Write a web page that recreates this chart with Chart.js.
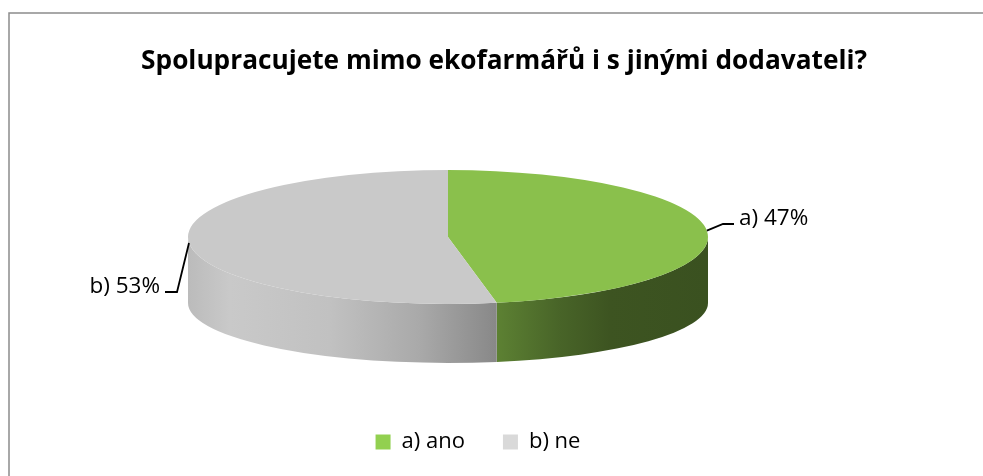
<!DOCTYPE html>
<html>
<head>
<meta charset="utf-8">
<script src="https://cdn.jsdelivr.net/npm/chart.js@4"></script>
<style>
  html, body { margin: 0; padding: 0; background: #fff; }
  #wrap { width: 983px; height: 476px; }
</style>
</head>
<body>
<div id="wrap"><canvas id="chart" width="983" height="476"></canvas></div>
<script>
const chartTitle = 'Spolupracujete mimo ekofarmářů i s jinými dodavateli?';
const categories = ['a) ano', 'b) ne'];
const shortLabels = ['a)', 'b)'];
const values = [47, 53];

const topColors = ['#8ac04c', '#c9c9c9'];
const legendColors = ['#92d050', '#d9d9d9'];

// 3D look of the pie (screen geometry of the top and bottom ellipses)
const pie = { cx: 448, cyTop: 237, ryTop: 67, cyBot: 303, ryBot: 60, rx: 260 };
// lighting of the side wall along x
const shade = [[188, 0.93], [230, 1.0], [330, 0.96], [420, 0.84], [490, 0.69], [560, 0.52], [610, 0.44], [708, 0.42]];

function hexRgb(h) {
    const n = parseInt(h.slice(1), 16);
    return [(n >> 16) & 255, (n >> 8) & 255, n & 255];
}

function sideGradient(ctx, color) {
    const rgb = hexRgb(color);
    const x0 = shade[0][0], x1 = shade[shade.length - 1][0];
    const g = ctx.createLinearGradient(x0, 0, x1, 0);
    shade.forEach(([x, k]) => {
        const c = rgb.map(v => Math.round(v * k));
        g.addColorStop((x - x0) / (x1 - x0), `rgb(${c[0]},${c[1]},${c[2]})`);
    });
    return g;
}

const pie3d = {
    id: 'pie3d',
    beforeDatasetsDraw(chart) {
        const ctx = chart.ctx;
        const arcs = chart.getDatasetMeta(0).data;
        // front side wall, only the part between 0 and PI is visible
        arcs.forEach((arc, i) => {
            for (let k = -1; k <= 1; k++) {
                const lo = Math.max(arc.startAngle, k * 2 * Math.PI);
                const hi = Math.min(arc.endAngle, k * 2 * Math.PI + Math.PI);
                if (hi <= lo) continue;
                ctx.beginPath();
                ctx.ellipse(pie.cx, pie.cyTop, pie.rx, pie.ryTop, 0, lo, hi, false);
                ctx.ellipse(pie.cx, pie.cyBot, pie.rx, pie.ryBot, 0, hi, lo, true);
                ctx.closePath();
                ctx.fillStyle = sideGradient(ctx, topColors[i]);
                ctx.fill();
            }
        });
        // squash the library's circle into the top ellipse
        const a = arcs[0];
        ctx.save();
        ctx.translate(pie.cx, pie.cyTop);
        ctx.scale(pie.rx / a.outerRadius, pie.ryTop / a.outerRadius);
        ctx.translate(-a.x, -a.y);
    },
    afterDatasetsDraw(chart) {
        chart.ctx.restore();
    },
    afterDraw(chart) {
        const ctx = chart.ctx;
        const arcs = chart.getDatasetMeta(0).data;
        ctx.save();

        // frame
        ctx.strokeStyle = '#8c8c8c';
        ctx.lineWidth = 1.5;
        ctx.strokeRect(9, 13, 1000, 500);

        // title
        ctx.fillStyle = '#000';
        ctx.font = 'bold 24px "Open Sans"';
        const tw = ctx.measureText(chartTitle).width;
        const size = 24 * 726 / tw;
        ctx.font = `bold ${size}px "Open Sans"`;
        ctx.textAlign = 'center';
        ctx.textBaseline = 'alphabetic';
        ctx.fillText(chartTitle, 504, 69);

        // data labels with leader lines
        ctx.font = '22.5px "Open Sans"';
        ctx.strokeStyle = '#000';
        ctx.lineWidth = 1.8;
        const aMid = (arcs[0].startAngle + arcs[0].endAngle) / 2;
        const ax = pie.cx + pie.rx * Math.cos(aMid);
        const ay = pie.cyTop + pie.ryTop * Math.sin(aMid);
        ctx.beginPath();
        ctx.moveTo(ax, ay);
        ctx.lineTo(723, 224);
        ctx.lineTo(734, 224);
        ctx.stroke();
        ctx.textAlign = 'left';
        ctx.fillText(`${shortLabels[0]} ${values[0]}%`, 739, 225);

        ctx.beginPath();
        ctx.moveTo(189, 243);
        ctx.lineTo(177, 292);
        ctx.lineTo(165, 292);
        ctx.stroke();
        ctx.textAlign = 'right';
        ctx.fillText(`${shortLabels[1]} ${values[1]}%`, 160, 293);

        ctx.restore();
    }
};

new Chart(document.getElementById('chart'), {
    type: 'pie',
    data: {
        labels: categories,
        datasets: [{
            data: values,
            backgroundColor: topColors,
            borderWidth: 0,
            clip: false
        }]
    },
    options: {
        responsive: false,
        animation: false,
        layout: { padding: { left: 0, right: 27, top: 0, bottom: 13 } },
        plugins: {
            title: { display: false },
            tooltip: { enabled: false },
            legend: {
                display: true,
                position: 'bottom',
                labels: {
                    boxWidth: 15,
                    boxHeight: 15,
                    padding: 38,
                    color: '#000',
                    font: { family: '"Open Sans"', size: 22 },
                    generateLabels: () => categories.map((c, i) => ({
                        text: c,
                        fillStyle: legendColors[i],
                        strokeStyle: legendColors[i],
                        lineWidth: 0,
                        index: i
                    }))
                }
            }
        }
    },
    plugins: [pie3d]
});
</script>
</body>
</html>
